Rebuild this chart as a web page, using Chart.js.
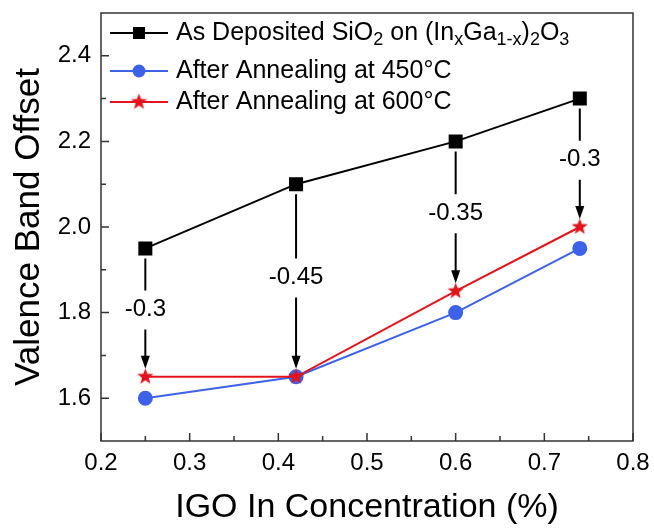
<!DOCTYPE html>
<html>
<head>
<meta charset="utf-8">
<script src="https://cdn.jsdelivr.net/npm/chart.js@4.4.0/dist/chart.umd.min.js"></script>
<style>html,body{margin:0;padding:0;background:#fff}</style>
</head>
<body>
<canvas id="vbo" width="654" height="529"></canvas>
<script>
const inConc = [0.25, 0.42, 0.6, 0.74];
const asDeposited = [1.95, 2.1, 2.2, 2.3];
const anneal450 = [1.6, 1.65, 1.8, 1.95];
const anneal600 = [1.65, 1.65, 1.85, 2.0];
const offsetLabels = ['-0.3', '-0.45', '-0.35', '-0.3'];
const xTicks = [0.2, 0.3, 0.4, 0.5, 0.6, 0.7, 0.8];
const xMinor = [0.25, 0.35, 0.45, 0.55, 0.65, 0.75];
const yTicks = [1.6, 1.8, 2.0, 2.2, 2.4];
const yMinor = [1.7, 1.9, 2.1, 2.3];

const FONT = "'Liberation Sans', Arial, sans-serif";
const BLUE = '#3d62e8';
const RED = '#e3131b';

// filled five point star for the 600C series
function makeStar(r, color) {
    const c = document.createElement('canvas');
    c.width = c.height = r * 2 + 2;
    const g = c.getContext('2d');
    g.beginPath();
    for (let i = 0; i < 10; i++) {
        const rad = i % 2 === 0 ? r : r * 0.42;
        const a = -Math.PI / 2 + i * Math.PI / 5;
        g.lineTo(r + 1 + rad * Math.cos(a), r + 1 + rad * Math.sin(a));
    }
    g.closePath();
    g.fillStyle = color;
    g.fill();
    return c;
}
const starImg = makeStar(8.5, RED);

function toPoints(ys) {
    return inConc.map((x, i) => ({x: x, y: ys[i]}));
}

// draw text with _{..} subscripts
function richText(ctx, str, x, y, size) {
    const parts = str.split(/(_\{[^}]*\})/);
    let cx = x;
    parts.forEach(p => {
        if (!p) return;
        if (p.startsWith('_{')) {
            const t = p.slice(2, -1);
            ctx.font = (size * 0.72) + 'px ' + FONT;
            ctx.fillText(t, cx, y + size * 0.3);
            cx += ctx.measureText(t).width;
        } else {
            ctx.font = size + 'px ' + FONT;
            ctx.fillText(p, cx, y);
            cx += ctx.measureText(p).width;
        }
    });
}

const decorations = {
    id: 'decorations',
    afterDatasetsDraw(chart) {
        const ctx = chart.ctx;
        const xs = chart.scales.x, ys = chart.scales.y;
        ctx.save();
        ctx.strokeStyle = '#000';
        ctx.fillStyle = '#000';
        ctx.lineWidth = 2;
        inConc.forEach((v, i) => {
            const px = xs.getPixelForValue(v);
            const top = ys.getPixelForValue(asDeposited[i]) + 10;
            const tip = ys.getPixelForValue(anneal600[i]) - 8;
            const mid = ys.getPixelForValue((asDeposited[i] + anneal600[i]) / 2) - 3;
            ctx.beginPath();
            ctx.moveTo(px, top);
            ctx.lineTo(px, mid - 19);
            ctx.moveTo(px, mid + 20);
            ctx.lineTo(px, tip - 10);
            ctx.stroke();
            ctx.beginPath();
            ctx.moveTo(px, tip);
            ctx.lineTo(px - 4.5, tip - 13);
            ctx.lineTo(px + 4.5, tip - 13);
            ctx.closePath();
            ctx.fill();
            ctx.font = '24px ' + FONT;
            ctx.textAlign = 'center';
            ctx.textBaseline = 'middle';
            ctx.fillText(offsetLabels[i], px, mid);
        });
        ctx.restore();
    },
    afterDraw(chart) {
        const ctx = chart.ctx;
        const a = chart.chartArea;
        const xs = chart.scales.x, ys = chart.scales.y;
        ctx.save();
        ctx.strokeStyle = '#333';
        ctx.lineWidth = 1.5;
        ctx.strokeRect(a.left, a.top, a.right - a.left, a.bottom - a.top);
        ctx.beginPath();
        xTicks.forEach(v => { const p = xs.getPixelForValue(v); ctx.moveTo(p, a.bottom); ctx.lineTo(p, a.bottom - 8); });
        xMinor.forEach(v => { const p = xs.getPixelForValue(v); ctx.moveTo(p, a.bottom); ctx.lineTo(p, a.bottom - 5); });
        yTicks.forEach(v => { const p = ys.getPixelForValue(v); ctx.moveTo(a.left, p); ctx.lineTo(a.left + 8, p); });
        yMinor.forEach(v => { const p = ys.getPixelForValue(v); ctx.moveTo(a.left, p); ctx.lineTo(a.left + 5, p); });
        ctx.stroke();

        // legend
        const rows = [33, 71, 102];
        chart.data.datasets.forEach((ds, i) => {
            const y = rows[i];
            ctx.strokeStyle = ds.borderColor;
            ctx.lineWidth = 2;
            ctx.beginPath();
            ctx.moveTo(110, y);
            ctx.lineTo(168, y);
            ctx.stroke();
            ctx.fillStyle = ds.borderColor;
            if (ds.pointStyle === 'rect') {
                ctx.fillRect(133, y - 6, 12, 12);
            } else if (ds.pointStyle === 'circle') {
                ctx.beginPath();
                ctx.arc(139, y, 6.5, 0, Math.PI * 2);
                ctx.fill();
            } else {
                ctx.drawImage(ds.pointStyle, 139 - starImg.width / 2, y - starImg.height / 2);
            }
            ctx.fillStyle = '#000';
            ctx.textAlign = 'left';
            ctx.textBaseline = 'middle';
            richText(ctx, ds.label, 176, y, 25);
        });
        ctx.restore();
    }
};

new Chart(document.getElementById('vbo'), {
    type: 'line',
    data: {
        datasets: [{
            label: 'As Deposited SiO_{2} on (In_{x}Ga_{1-x})_{2}O_{3}',
            data: toPoints(asDeposited),
            borderColor: '#000',
            backgroundColor: '#000',
            pointStyle: 'rect',
            pointRadius: 8.5,
            borderWidth: 2,
            order: 2
        }, {
            label: 'After Annealing at 450°C',
            data: toPoints(anneal450),
            borderColor: BLUE,
            backgroundColor: BLUE,
            pointStyle: 'circle',
            pointRadius: 6.5,
            borderWidth: 2,
            order: 1
        }, {
            label: 'After Annealing at 600°C',
            data: toPoints(anneal600),
            borderColor: RED,
            backgroundColor: RED,
            pointStyle: starImg,
            pointRadius: 8.5,
            borderWidth: 2,
            order: 0
        }]
    },
    options: {
        responsive: false,
        devicePixelRatio: 1,
        animation: false,
        layout: {padding: {top: 13, right: 21, left: 0, bottom: 0}},
        plugins: {legend: {display: false}, tooltip: {enabled: false}},
        elements: {line: {tension: 0}, point: {borderWidth: 0}},
        scales: {
            x: {
                type: 'linear',
                min: 0.2,
                max: 0.8,
                afterBuildTicks: s => { s.ticks = xTicks.map(v => ({value: v})); },
                afterFit: s => { s.height = 88; s.paddingLeft = 0; s.paddingRight = 0; },
                grid: {display: false, drawTicks: false},
                border: {display: false},
                ticks: {
                    color: '#000',
                    font: {family: FONT, size: 24},
                    padding: 8,
                    maxRotation: 0,
                    callback: v => v.toFixed(1)
                },
                title: {
                    display: true,
                    text: 'IGO In Concentration (%)',
                    color: '#000',
                    font: {family: FONT, size: 34, lineHeight: 1},
                    padding: {top: 0, bottom: 4}
                }
            },
            y: {
                min: 1.5,
                max: 2.5,
                afterBuildTicks: s => { s.ticks = yTicks.map(v => ({value: v})); },
                afterFit: s => { s.width = 101; s.paddingTop = 0; s.paddingBottom = 0; },
                grid: {display: false, drawTicks: false},
                border: {display: false},
                ticks: {
                    color: '#000',
                    font: {family: FONT, size: 24},
                    padding: 10,
                    callback: v => v.toFixed(1)
                },
                title: {
                    display: true,
                    text: 'Valence Band Offset',
                    color: '#000',
                    font: {family: FONT, size: 35, lineHeight: 1},
                    padding: {top: 12, bottom: 0}
                }
            }
        }
    },
    plugins: [decorations]
});
</script>
</body>
</html>
